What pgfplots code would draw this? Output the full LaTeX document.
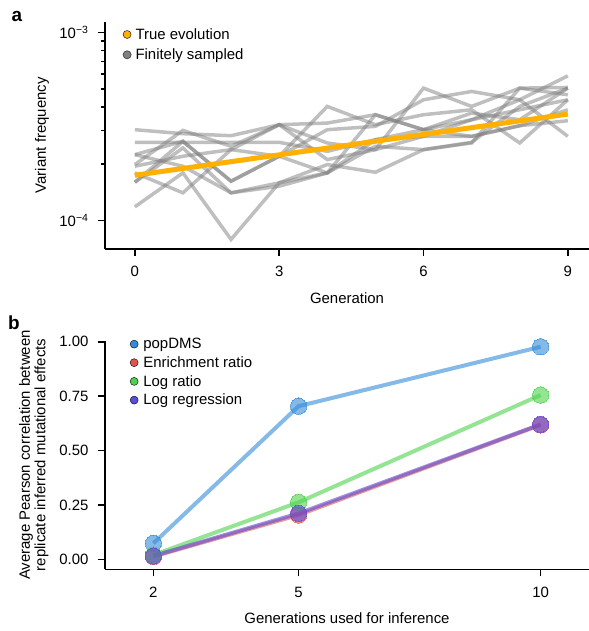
\documentclass[border=0pt]{standalone}
\usepackage{pgfplots}
\pgfplotsset{compat=1.18}
\usepackage{fontspec}
\setmainfont{Liberation Sans}

\definecolor{trueorange}{RGB}{255,176,0}
\definecolor{sampgray}{RGB}{128,128,128}
\definecolor{popblue}{RGB}{52,140,216}
\definecolor{enrred}{RGB}{224,86,76}
\definecolor{lrgreen}{RGB}{76,210,76}
\definecolor{regpurple}{RGB}{90,76,220}

\pgfplotsset{
  panel/.style={
    scale only axis,
    axis lines=left,
    axis line style={-, line width=1.5bp},
    tick align=outside,
    major tick length=7bp,
    minor tick length=4bp,
    every tick/.style={black, line width=1.5bp},
    xticklabel style={yshift=-7bp},
    yticklabel style={xshift=-6bp},
    enlargelimits=false,
    clip=false,
    legend cell align=left,
    legend image code/.code={\draw[#1] (0bp,0bp) circle (4bp);},
  },
  samp/.style={sampgray, opacity=0.5, line width=3.5bp, forget plot},
  bplot/.style={#1, line width=4bp, opacity=0.6, mark=*, mark size=8.2bp,
    mark options={fill=#1, draw=#1, line width=0bp}, forget plot},
}

\begin{document}
\begin{tikzpicture}[font=\fontsize{15}{18}\selectfont]
\path[use as bounding box] (0,0) rectangle (589bp,631bp);

% panel a
\begin{axis}[panel,
  at={(105bp,382bp)}, anchor=south west,
  width=484bp, height=227.3bp,
  xmin=-0.62, xmax=9.44,
  ymode=log, ymin=7.05e-5, ymax=1.138e-3,
  xtick={0,3,6,9}, xticklabels={0,3,6,9},
  ytick={1e-4,1e-3}, yticklabels={10\textsuperscript{−4},10\textsuperscript{−3}},
  yminorticks=true,
  xlabel={Generation}, ylabel={Variant frequency},
  xlabel style={at={(axis description cs:0.5,-0.2156)}, anchor=center},
  ylabel style={at={(axis description cs:-0.13,0.5)}, anchor=center},
  legend style={draw=none, fill=none, at={(0.03,0.985)}, anchor=north west,
    row sep=6bp, nodes={inner ysep=1bp, inner xsep=4bp}},
]
\addplot[samp] coordinates {(0,3.036e-4) (1,2.891e-4) (2,2.821e-4) (3,3.227e-4) (4,3.293e-4) (5,3.646e-4) (6,3.036e-4) (7,3.429e-4) (8,3.875e-4) (9,4.378e-4)};
\addplot[samp] coordinates {(0,2.601e-4) (1,2.601e-4) (2,2.601e-4) (3,2.601e-4) (4,2.330e-4) (5,2.687e-4) (6,2.798e-4) (7,2.798e-4) (8,3.187e-4) (9,3.388e-4)};
\addplot[samp] coordinates {(0,2.237e-4) (1,2.633e-4) (2,1.616e-4) (3,2.193e-4) (4,3.036e-4) (5,3.162e-4) (6,4.378e-4) (7,4.847e-4) (8,4.378e-4) (9,2.798e-4)};
\addplot[samp] coordinates {(0,1.981e-4) (1,3.011e-4) (2,2.477e-4) (3,3.227e-4) (4,2.105e-4) (5,2.378e-4) (6,5.048e-4) (7,4.036e-4) (8,5.048e-4) (9,4.653e-4)};
\addplot[samp] coordinates {(0,1.596e-4) (1,2.427e-4) (2,1.402e-4) (3,1.520e-4) (4,1.789e-4) (5,2.687e-4) (6,3.036e-4) (7,3.721e-4) (8,3.429e-4) (9,5.048e-4)};
\addplot[samp] coordinates {(0,1.596e-4) (1,2.633e-4) (2,1.616e-4) (3,2.193e-4) (4,4.036e-4) (5,3.227e-4) (6,3.646e-4) (7,3.875e-4) (8,2.580e-4) (9,4.378e-4)};
\addplot[samp] coordinates {(0,1.181e-4) (1,1.789e-4) (2,0.793e-4) (3,1.584e-4) (4,1.981e-4) (5,1.804e-4) (6,2.378e-4) (7,2.601e-4) (8,4.036e-4) (9,5.048e-4)};
\addplot[samp] coordinates {(0,1.789e-4) (1,1.402e-4) (2,2.378e-4) (3,3.227e-4) (4,2.580e-4) (5,2.378e-4) (6,2.798e-4) (7,3.429e-4) (8,4.378e-4) (9,5.867e-4)};
\addplot[samp] coordinates {(0,1.941e-4) (1,2.193e-4) (2,2.378e-4) (3,2.193e-4) (4,1.789e-4) (5,3.646e-4) (6,3.036e-4) (7,2.798e-4) (8,3.187e-4) (9,3.875e-4)};
\addplot[samp] coordinates {(0,2.237e-4) (1,1.941e-4) (2,1.402e-4) (3,1.584e-4) (4,1.789e-4) (5,2.477e-4) (6,2.378e-4) (7,2.580e-4) (8,5.048e-4) (9,5.089e-4)};
\addplot[trueorange, line width=5bp, forget plot] coordinates {(0,1.738e-4) (1,1.889e-4) (2,2.053e-4) (3,2.231e-4) (4,2.424e-4) (5,2.635e-4) (6,2.864e-4) (7,3.112e-4) (8,3.382e-4) (9,3.675e-4)};
\addlegendimage{fill=trueorange, draw=none}
\addlegendentry{True evolution}
\addlegendimage{fill=sampgray, draw=black!70, line width=0.8bp}
\addlegendentry{Finitely sampled}
\end{axis}
\node[font=\fontsize{19}{19}\selectfont\bfseries] at (17bp,614bp) {a};

% panel b
\begin{axis}[panel,
  at={(105bp,61.7bp)}, anchor=south west,
  width=484bp, height=228.6bp,
  xmin=1, xmax=11, ymin=-0.046, ymax=1.005,
  xtick={2,5,10}, xticklabels={2,5,10},
  ytick={0,0.25,0.5,0.75,1}, yticklabels={0.00,0.25,0.50,0.75,1.00},
  xlabel={Generations used for inference},
  ylabel={Average Pearson correlation between\\replicate inferred mutational effects},
  xlabel style={at={(axis description cs:0.5,-0.215)}, anchor=center},
  ylabel style={at={(axis description cs:-0.147,0.5)}, anchor=center, align=center,
    font=\fontsize{15}{15.5}\selectfont},
  legend style={draw=none, fill=none, at={(0.045,1.025)}, anchor=north west,
    row sep=4.4bp, nodes={inner ysep=1bp, inner xsep=5bp}},
]
\addplot[bplot=popblue] coordinates {(2,0.0735) (5,0.704) (10,0.977)};
\addplot[bplot=enrred] coordinates {(2,0.013) (5,0.204) (10,0.618)};
\addplot[bplot=lrgreen] coordinates {(2,0.020) (5,0.262) (10,0.755)};
\addplot[bplot=regpurple] coordinates {(2,0.015) (5,0.211) (10,0.620)};
\addlegendimage{fill=popblue, draw=none}
\addlegendentry{popDMS}
\addlegendimage{fill=enrred, draw=none}
\addlegendentry{Enrichment ratio}
\addlegendimage{fill=lrgreen, draw=none}
\addlegendentry{Log ratio}
\addlegendimage{fill=regpurple, draw=none}
\addlegendentry{Log regression}
\end{axis}
\node[font=\fontsize{19}{19}\selectfont\bfseries] at (14bp,308bp) {b};
\end{tikzpicture}
\end{document}
